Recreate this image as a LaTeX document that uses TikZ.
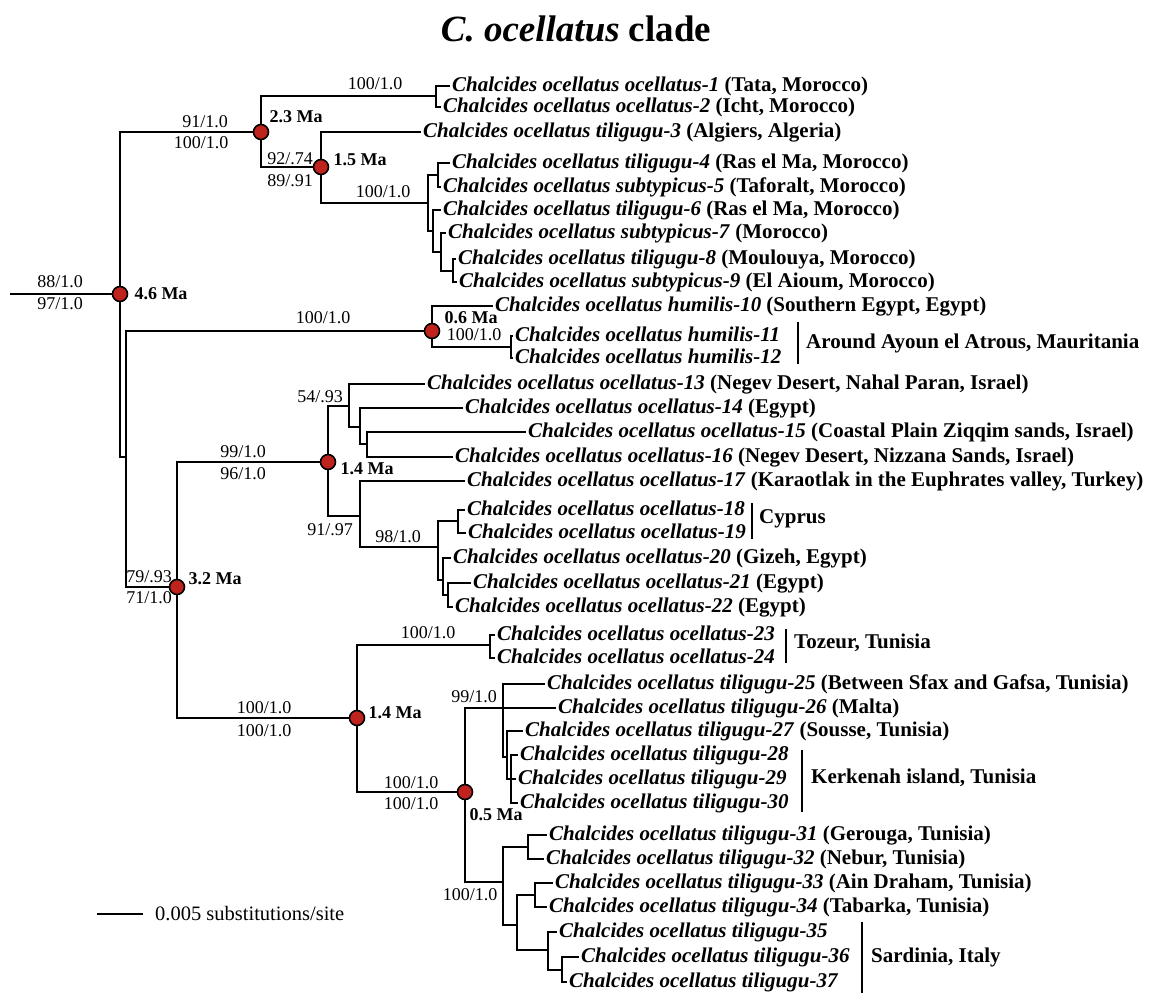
\documentclass[tikz,border=0pt]{standalone}
\usepackage{fontspec}
\setmainfont{Liberation Serif}
\usetikzlibrary{calc}
\definecolor{nodered}{RGB}{190,35,30}
\newcommand\chal[1]{\textit{Chalcides ocellatus #1}}
\begin{document}
\begin{tikzpicture}[x=1pt,y=-1pt,
  br/.style={line width=2.3pt},
  tip/.style={anchor=west, inner xsep=2pt, inner ysep=0pt, text height=14pt, text depth=4pt, font=\fontsize{21}{22}\selectfont\bfseries},
  sup/.style={inner sep=0pt, font=\fontsize{18}{20}\selectfont},
  age/.style={inner sep=0pt, font=\fontsize{18}{20}\selectfont\bfseries},
  dot/.style={circle, fill=nodered, draw=black, line width=1.6pt, minimum size=15pt, inner sep=0pt},
  grp/.style={anchor=west, inner sep=0pt, font=\fontsize{21}{22}\selectfont\bfseries},
  bar/.style={line width=1.3pt},
]
\useasboundingbox (0,0) rectangle (1151,993);

\node[font=\fontsize{37}{40}\selectfont\bfseries] (title) at (576,29) {\textit{C. ocellatus} clade};

% internal nodes
\coordinate (root) at (10,294);
\coordinate (n46) at (120,294);
\coordinate (n23) at (261,132);
\coordinate (n12) at (436,96);
\coordinate (n15) at (321,167);
\coordinate (n49) at (428,203);
\coordinate (n45) at (438,175);
\coordinate (n69) at (433,231);
\coordinate (n789) at (441,252);
\coordinate (n89) at (453,271);
\coordinate (nIn) at (126,457);
\coordinate (n06) at (432,331);
\coordinate (n1112) at (511,347);
\coordinate (n32) at (177,587);
\coordinate (n14a) at (328,462);
\coordinate (nA) at (349,406);
\coordinate (nC) at (360,427);
\coordinate (nD) at (367,444);
\coordinate (nB) at (360,516);
\coordinate (nE) at (438,547);
\coordinate (nCy) at (458,521);
\coordinate (nF) at (443,580);
\coordinate (nG) at (448,595);
\coordinate (n14b) at (357,718);
\coordinate (n2324) at (490,645);
\coordinate (n05) at (465,792);
\coordinate (n99) at (503,708);
\coordinate (nK) at (507,757);
\coordinate (nM) at (511,779);
\coordinate (nL) at (503,882);
\coordinate (nN) at (528,847);
\coordinate (nO) at (517,925);
\coordinate (nP) at (535,895);
\coordinate (nQ) at (548,950);
\coordinate (nR) at (562,970);

% tips
\node[tip] (t1) at (450,86) {\chal{ocellatus-1} (Tata, Morocco)};
\node[tip] (t2) at (441,107) {\chal{ocellatus-2} (Icht, Morocco)};
\node[tip] (t3) at (421,132) {\chal{tiligugu-3} (Algiers, Algeria)};
\node[tip] (t4) at (450,163) {\chal{tiligugu-4} (Ras el Ma, Morocco)};
\node[tip] (t5) at (441,187) {\chal{subtypicus-5} (Taforalt, Morocco)};
\node[tip] (t6) at (441,210) {\chal{tiligugu-6} (Ras el Ma, Morocco)};
\node[tip] (t7) at (446,233) {\chal{subtypicus-7} (Morocco)};
\node[tip] (t8) at (456,259) {\chal{tiligugu-8} (Moulouya, Morocco)};
\node[tip] (t9) at (457,282) {\chal{subtypicus-9} (El Aioum, Morocco)};
\node[tip] (t10) at (493,306) {\chal{humilis-10} (Southern Egypt, Egypt)};
\node[tip] (t11) at (513,336) {\chal{humilis-11}};
\node[tip] (t12) at (513,358) {\chal{humilis-12}};
\node[tip] (t13) at (425,384) {\chal{ocellatus-13} (Negev Desert, Nahal Paran, Israel)};
\node[tip] (t14) at (463,408) {\chal{ocellatus-14} (Egypt)};
\node[tip] (t15) at (526,432) {\chal{ocellatus-15} (Coastal Plain Ziqqim sands, Israel)};
\node[tip] (t16) at (453,457) {\chal{ocellatus-16} (Negev Desert, Nizzana Sands, Israel)};
\node[tip] (t17) at (465,481) {\chal{ocellatus-17} (Karaotlak in the Euphrates valley, Turkey)};
\node[tip] (t18) at (465,510) {\chal{ocellatus-18}};
\node[tip] (t19) at (466,533) {\chal{ocellatus-19}};
\node[tip] (t20) at (451,558) {\chal{ocellatus-20} (Gizeh, Egypt)};
\node[tip] (t21) at (471,583) {\chal{ocellatus-21} (Egypt)};
\node[tip] (t22) at (453,607) {\chal{ocellatus-22} (Egypt)};
\node[tip] (t23) at (495,635) {\chal{ocellatus-23}};
\node[tip] (t24) at (495,658) {\chal{ocellatus-24}};
\node[tip] (t25) at (545,684) {\chal{tiligugu-25} (Between Sfax and Gafsa, Tunisia)};
\node[tip] (t26) at (556,708) {\chal{tiligugu-26} (Malta)};
\node[tip] (t27) at (523,731) {\chal{tiligugu-27} (Sousse, Tunisia)};
\node[tip] (t28) at (518,755) {\chal{tiligugu-28}};
\node[tip] (t29) at (516,779) {\chal{tiligugu-29}};
\node[tip] (t30) at (518,803) {\chal{tiligugu-30}};
\node[tip] (t31) at (547,835) {\chal{tiligugu-31} (Gerouga, Tunisia)};
\node[tip] (t32) at (544,859) {\chal{tiligugu-32} (Nebur, Tunisia)};
\node[tip] (t33) at (553,883) {\chal{tiligugu-33} (Ain Draham, Tunisia)};
\node[tip] (t34) at (547,907) {\chal{tiligugu-34} (Tabarka, Tunisia)};
\node[tip] (t35) at (557,932) {\chal{tiligugu-35}};
\node[tip] (t36) at (579,957) {\chal{tiligugu-36}};
\node[tip] (t37) at (567,982) {\chal{tiligugu-37}};

% branches
\draw[br] (root) -- (n46);
\draw[br] (n46) |- (n23);
\draw[br] (n46) |- (nIn);
\draw[br] (n23) |- (n12);
\draw[br] (n23) |- (n15);
\draw[br] (n12) |- (t1.west);
\draw[br] (n12) |- (t2.west);
\draw[br] (n15) |- (t3.west);
\draw[br] (n15) |- (n49);
\draw[br] (n49) |- (n45);
\draw[br] (n49) |- (n69);
\draw[br] (n45) |- (t4.west);
\draw[br] (n45) |- (t5.west);
\draw[br] (n69) |- (t6.west);
\draw[br] (n69) |- (n789);
\draw[br] (n789) |- (t7.west);
\draw[br] (n789) |- (n89);
\draw[br] (n89) |- (t8.west);
\draw[br] (n89) |- (t9.west);
\draw[br] (nIn) |- (n06);
\draw[br] (nIn) |- (n32);
\draw[br] (n06) |- (t10.west);
\draw[br] (n06) |- (n1112);
\draw[br] (n1112) |- (t11.west);
\draw[br] (n1112) |- (t12.west);
\draw[br] (n32) |- (n14a);
\draw[br] (n32) |- (n14b);
\draw[br] (n14a) |- (nA);
\draw[br] (n14a) |- (nB);
\draw[br] (nA) |- (t13.west);
\draw[br] (nA) |- (nC);
\draw[br] (nC) |- (t14.west);
\draw[br] (nC) |- (nD);
\draw[br] (nD) |- (t15.west);
\draw[br] (nD) |- (t16.west);
\draw[br] (nB) |- (t17.west);
\draw[br] (nB) |- (nE);
\draw[br] (nE) |- (nCy);
\draw[br] (nE) |- (nF);
\draw[br] (nCy) |- (t18.west);
\draw[br] (nCy) |- (t19.west);
\draw[br] (nF) |- (t20.west);
\draw[br] (nF) |- (nG);
\draw[br] (nG) |- (t21.west);
\draw[br] (nG) |- (t22.west);
\draw[br] (n14b) |- (n2324);
\draw[br] (n14b) |- (n05);
\draw[br] (n2324) |- (t23.west);
\draw[br] (n2324) |- (t24.west);
\draw[br] (n05) |- (n99);
\draw[br] (n05) |- (nL);
\draw[br] (n99) |- (t25.west);
\draw[br] (n99) |- (t26.west);
\draw[br] (n99) |- (nK);
\draw[br] (nK) |- (t27.west);
\draw[br] (nK) |- (nM);
\draw[br] (nM) |- (t28.west);
\draw[br] (nM) |- (t29.west);
\draw[br] (nM) |- (t30.west);
\draw[br] (nL) |- (nN);
\draw[br] (nL) |- (nO);
\draw[br] (nN) |- (t31.west);
\draw[br] (nN) |- (t32.west);
\draw[br] (nO) |- (nP);
\draw[br] (nO) |- (nQ);
\draw[br] (nP) |- (t33.west);
\draw[br] (nP) |- (t34.west);
\draw[br] (nQ) |- (t35.west);
\draw[br] (nQ) |- (nR);
\draw[br] (nR) |- (t36.west);
\draw[br] (nR) |- (t37.west);

% dated nodes
\node[dot] (d46) at (n46) {};
\node[dot] (d23) at (n23) {};
\node[dot] (d15) at (n15) {};
\node[dot] (d06) at (n06) {};
\node[dot] (d32) at (n32) {};
\node[dot] (d14a) at (n14a) {};
\node[dot] (d14b) at (n14b) {};
\node[dot] (d05) at (n05) {};

% ages
\node[age] (a46) at (161,294) {4.6 Ma};
\node[age] (a23) at (296,117) {2.3 Ma};
\node[age] (a15) at (360,160) {1.5 Ma};
\node[age] (a06) at (471,318) {0.6 Ma};
\node[age] (a14a) at (367,469) {1.4 Ma};
\node[age] (a32) at (215,579) {3.2 Ma};
\node[age] (a14b) at (395,713) {1.4 Ma};
\node[age] (a05) at (496,815) {0.5 Ma};

% support values
\node[sup] (s1) at (60,282) {88/1.0};
\node[sup] (s2) at (60,304) {97/1.0};
\node[sup] (s3) at (205,122) {91/1.0};
\node[sup] (s4) at (201,143) {100/1.0};
\node[sup] (s5) at (375,84) {100/1.0};
\node[sup] (s6) at (290,159) {92/.74};
\node[sup] (s7) at (290,181) {89/.91};
\node[sup] (s8) at (383,192) {100/1.0};
\node[sup] (s9) at (323,318) {100/1.0};
\node[sup] (s10) at (474,335) {100/1.0};
\node[sup] (s11) at (320,397) {54/.93};
\node[sup] (s12) at (243,452) {99/1.0};
\node[sup] (s13) at (243,474) {96/1.0};
\node[sup] (s14) at (330,530) {91/.97};
\node[sup] (s15) at (398,537) {98/1.0};
\node[sup] (s16) at (149,577) {79/.93};
\node[sup] (s17) at (149,598) {71/1.0};
\node[sup] (s18) at (264,708) {100/1.0};
\node[sup] (s19) at (264,731) {100/1.0};
\node[sup] (s20) at (428,633) {100/1.0};
\node[sup] (s21) at (474,697) {99/1.0};
\node[sup] (s22) at (411,783) {100/1.0};
\node[sup] (s23) at (411,804) {100/1.0};
\node[sup] (s24) at (470,895) {100/1.0};

% group bars and labels
\draw[bar] (798,322) -- (798,364);
\node[grp] (gMau) at (806,343) {Around Ayoun el Atrous, Mauritania};
\draw[bar] (752,503) -- (752,539);
\node[grp] (gCyp) at (759,519) {Cyprus};
\draw[bar] (786,629) -- (786,663);
\node[grp] (gToz) at (794,643) {Tozeur, Tunisia};
\draw[bar] (802,750) -- (802,812);
\node[grp] (gKer) at (811,778) {Kerkenah island, Tunisia};
\draw[bar] (862,922) -- (862,993);
\node[grp] (gSar) at (871,957) {Sardinia, Italy};

% scale bar
\coordinate (sbA) at (97,914);
\coordinate (sbB) at (143,914);
\draw[bar] (sbA) -- (sbB);
\node[anchor=west, inner sep=0pt, font=\fontsize{20.5}{22}\selectfont] (sbl) at (155,914) {0.005 substitutions/site};
\end{tikzpicture}
\end{document}
